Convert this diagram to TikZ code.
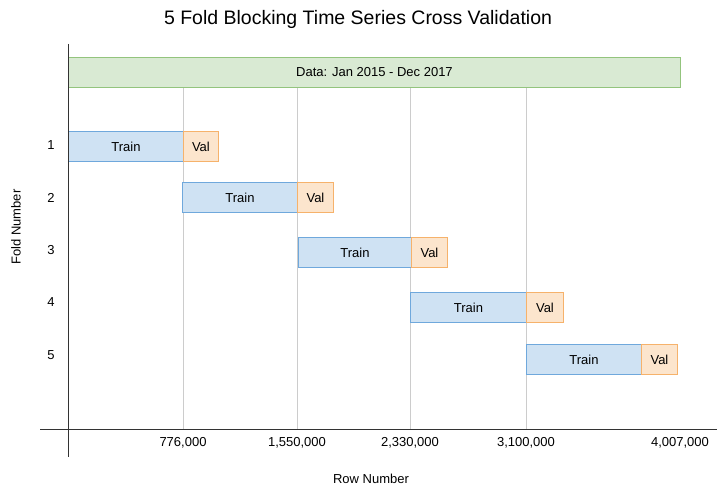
\documentclass[tikz,border=0pt]{standalone}
\usepackage{fontspec}
\setmainfont{Liberation Sans}
\definecolor{trainfill}{HTML}{CFE2F3}
\definecolor{trainline}{HTML}{6FA8DC}
\definecolor{valfill}{HTML}{FCE5CD}
\definecolor{valline}{HTML}{F6B26B}
\definecolor{datafill}{HTML}{D9EAD3}
\definecolor{dataline}{HTML}{93C47D}
\definecolor{gridgray}{HTML}{CCCCCC}
\definecolor{axisgray}{HTML}{333333}
\begin{document}
\begin{tikzpicture}[x=1pt,y=-1pt,
  bar/.style={draw, line width=0.9pt, minimum height=30pt, inner sep=0pt, anchor=north west, font=\fontsize{13}{15}\selectfont},
  trainbar/.style={bar, fill=trainfill, draw=trainline},
  valbar/.style={bar, fill=valfill, draw=valline},
  databar/.style={bar, fill=datafill, draw=dataline},
  lbl/.style={font=\fontsize{13}{15}\selectfont, inner sep=0pt},
  grid/.style={draw=gridgray, line width=1pt},
  axis/.style={draw=axisgray, line width=1pt}]
\useasboundingbox (0,0) rectangle (720,495);
\node[font=\fontsize{19.5}{22}\selectfont] (title) at (358,19) {5 Fold Blocking Time Series Cross Validation};
% grid lines
\foreach \n/\x in {g1/183,g2/297,g3/410,g4/526}{
  \coordinate (\n t) at (\x,87);
  \coordinate (\n b) at (\x,429);
  \draw[grid] (\n t) -- (\n b);
}
% data bar
\node[databar, minimum width=612pt] (data) at (68,57) {Data: Jan 2015 - Dec 2017};
% folds
\node[trainbar, minimum width=115pt] (t1) at (68,131) {Train};
\node[valbar, minimum width=35pt] (v1) at (183,131) {Val};
\node[trainbar, minimum width=115pt] (t2) at (182,182) {Train};
\node[valbar, minimum width=36pt] (v2) at (297,182) {Val};
\node[trainbar, minimum width=113pt] (t3) at (298,237) {Train};
\node[valbar, minimum width=36pt] (v3) at (411,237) {Val};
\node[trainbar, minimum width=116pt] (t4) at (410,292) {Train};
\node[valbar, minimum width=37pt] (v4) at (526,292) {Val};
\node[trainbar, minimum width=115pt] (t5) at (526,344) {Train};
\node[valbar, minimum width=36pt] (v5) at (641,344) {Val};
% axes
\coordinate (ytop) at (68,44);
\coordinate (ybot) at (68,457);
\coordinate (xl) at (40,429);
\coordinate (xr) at (717,429);
\draw[axis] (ytop) -- (ybot);
\draw[axis] (xl) -- (xr);
% fold labels
\node[lbl] (f1) at (51,145) {1};
\node[lbl] (f2) at (51,198) {2};
\node[lbl] (f3) at (51,250) {3};
\node[lbl] (f4) at (51,302) {4};
\node[lbl] (f5) at (51,355) {5};
\node[lbl, rotate=90] (ylab) at (16,227) {Fold Number};
% tick labels
\node[lbl] (x1) at (183,443) {776,000};
\node[lbl] (x2) at (297,443) {1,550,000};
\node[lbl] (x3) at (410,443) {2,330,000};
\node[lbl] (x4) at (526,443) {3,100,000};
\node[lbl] (x5) at (680,443) {4,007,000};
\node[lbl] (xlab) at (371,479) {Row Number};
\end{tikzpicture}
\end{document}
